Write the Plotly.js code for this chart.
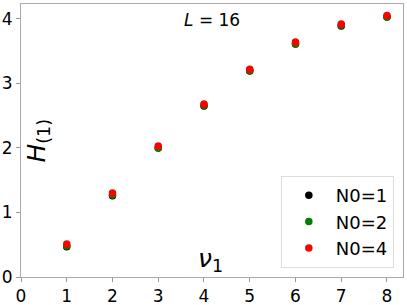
<!DOCTYPE html>
<html><head><meta charset="utf-8">
<script src="https://cdn.plot.ly/plotly-3.0.1.min.js"></script>
<style>body{margin:0;padding:0;background:#fff}#c{width:407px;height:305px}</style>
</head><body><div id="c"></div>
<script>
const nu = [1, 2, 3, 4, 5, 6, 7, 8];
const h_N1 = [0.47, 1.26, 2.00, 2.65, 3.19, 3.61, 3.89, 4.03];
const h_N2 = [0.48, 1.27, 2.00, 2.66, 3.20, 3.61, 3.90, 4.03];
const h_N4 = [0.51, 1.30, 2.03, 2.68, 3.22, 3.64, 3.92, 4.05];
const names = ['N0=1', 'N0=2', 'N0=4'];
const colors = ['black', 'green', 'red'];
const series = [h_N1, h_N2, h_N4];
const traces = series.map((y, i) => ({
  x: nu, y: y, type: 'scatter', mode: 'markers', name: names[i],
  marker: {color: colors[i], size: 7.5}
}));
const F = 'DejaVu Sans';
const layout = {
  width: 407, height: 305,
  margin: {l: 21, r: 4, t: 4, b: 28},
  paper_bgcolor: '#fff', plot_bgcolor: '#fff',
  showlegend: true,
  font: {family: F, size: 16, color: 'black'},
  xaxis: {range: [0, 8.35], tickvals: [0,1,2,3,4,5,6,7,8], ticks: 'outside', ticklen: 4,
    tickcolor: '#999', showgrid: false, zeroline: false, showline: true, linecolor: '#aaa',
    mirror: true, tickfont: {size: 17, family: F}},
  yaxis: {range: [0, 4.23], tickvals: [0,1,2,3,4], ticks: 'outside', ticklen: 4,
    tickcolor: '#999', showgrid: false, zeroline: false, showline: true, linecolor: '#aaa',
    mirror: true, tickfont: {size: 17, family: F}},
  legend: {x: 0.976, y: 0.033, xanchor: 'right', yanchor: 'bottom', bgcolor: '#fff',
    bordercolor: '#ddd', borderwidth: 1, font: {size: 18, family: F}, itemwidth: 44},
  annotations: [
    {x: 0.5, y: 0.985, xref: 'paper', yref: 'paper', xanchor: 'center', yanchor: 'top',
     text: '<i>L</i> = 16', showarrow: false, font: {size: 17, family: F}},
    {x: 4.15, y: 0.27, xref: 'x', yref: 'y', xanchor: 'center', yanchor: 'middle',
     text: '<i>ν</i><sub>1</sub>', showarrow: false, font: {size: 25, family: F}},
    {x: 0.042, y: 0.5, xref: 'paper', yref: 'paper', xanchor: 'center', yanchor: 'middle',
     text: '<i>H</i><sub>(1)</sub>', showarrow: false, textangle: -90, font: {size: 25, family: F}}
  ]
};
Plotly.newPlot('c', traces, layout, {displayModeBar: false, staticPlot: true});
</script></body></html>
